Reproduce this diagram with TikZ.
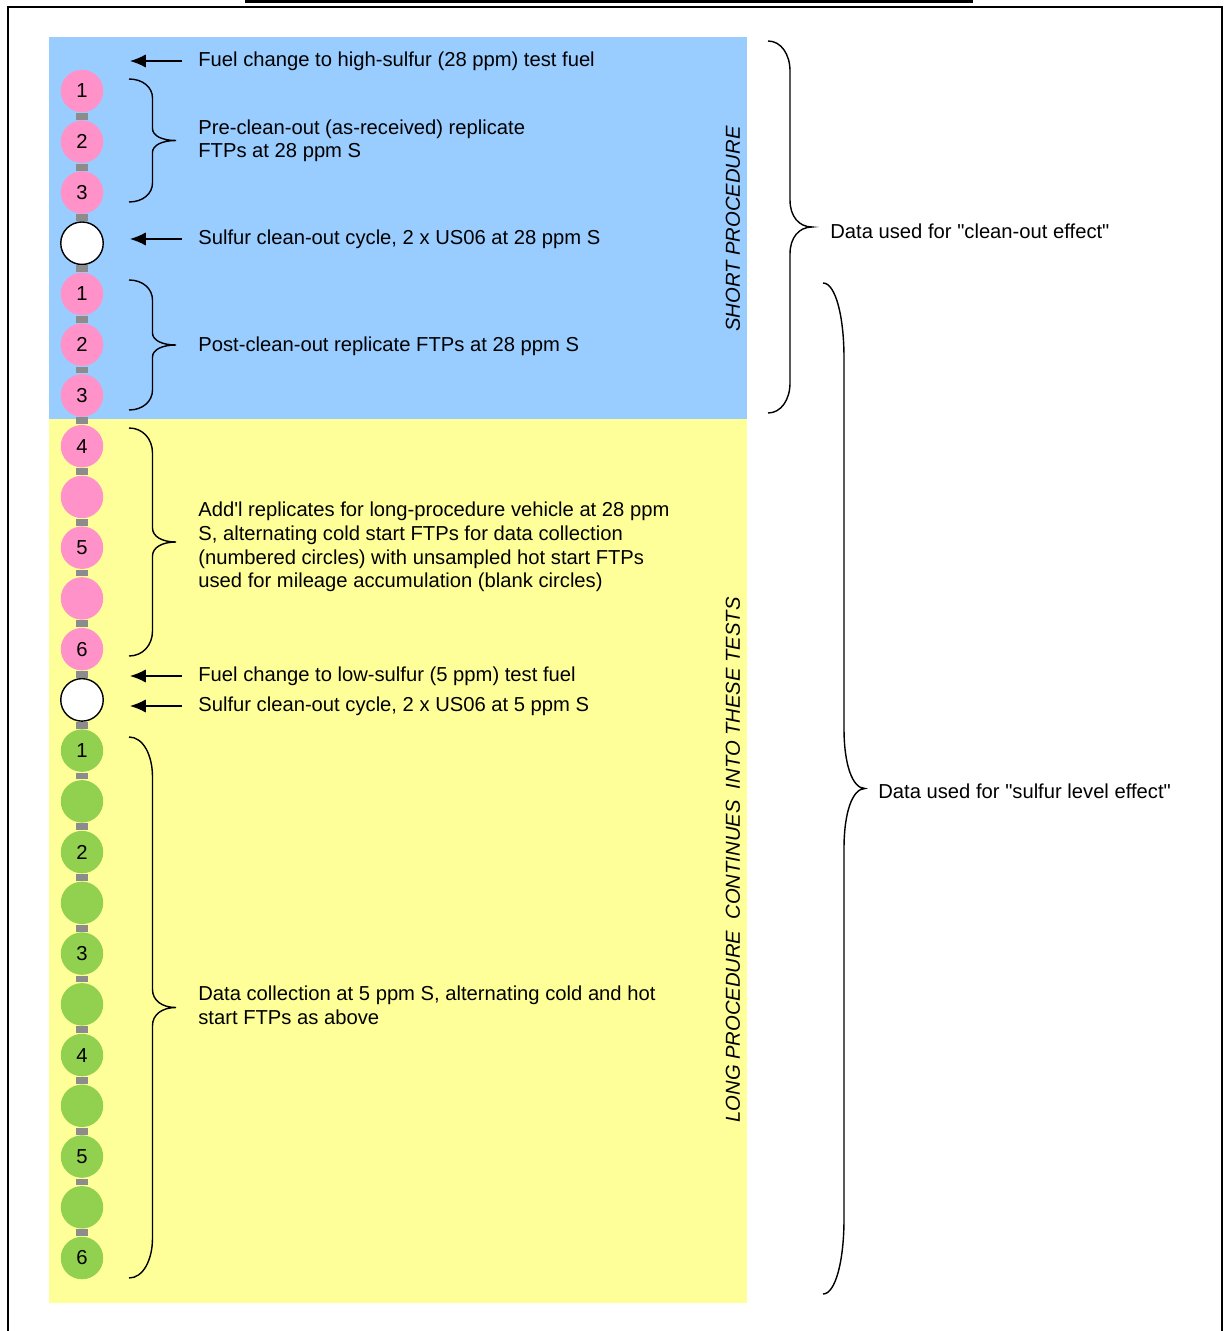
\documentclass[tikz,border=0pt]{standalone}
\usepackage{fontspec}
\setmainfont{Liberation Sans}
\usepackage{xcolor}
\usetikzlibrary{arrows.meta}
\definecolor{panelblue}{HTML}{99CCFF}
\definecolor{panelyellow}{HTML}{FFFF99}
\definecolor{dotpink}{HTML}{FF92C8}
\definecolor{dotgreen}{HTML}{92D050}
\definecolor{linkgray}{HTML}{8C8C8C}
\tikzset{
	dot_style/.style = {shape=circle, minimum size=0.85cm, inner sep=0pt, line width=0.8pt, font=\fontsize{11.5}{13.4}\selectfont},
	text_style/.style = {anchor=west, inner sep=0pt, align=left, font=\fontsize{11.5}{13.4}\selectfont},
	side_style/.style = {inner sep=0pt, rotate=90, font=\fontsize{11.5}{13.4}\selectfont\itshape},
	brace_style/.style = {draw=black, line width=0.8pt},
	link_style/.style = {draw=linkgray, line width=0.24cm}
}
\newcommand{\curlybrace}[6]{%
  \draw[brace_style] (#1,#2)
    .. controls ({#1+0.3*#4},#2) and ({#1+0.5*#4},{#2+0.45*#5}) .. ({#1+0.5*#4},{#2+#5})
    -- ({#1+0.5*#4},{(#2+#3)/2-#6})
    .. controls ({#1+0.5*#4},{(#2+#3)/2-0.4*#6}) and ({#1+0.7*#4},{(#2+#3)/2}) .. ({#1+#4},{(#2+#3)/2})
    .. controls ({#1+0.7*#4},{(#2+#3)/2}) and ({#1+0.5*#4},{(#2+#3)/2+0.4*#6}) .. ({#1+0.5*#4},{(#2+#3)/2+#6})
    -- ({#1+0.5*#4},{#3-#5})
    .. controls ({#1+0.5*#4},{#3-0.45*#5}) and ({#1+0.3*#4},#3) .. (#1,#3);
}
\begin{document}
\begin{tikzpicture}[
    x=0.02cm,
    y=-0.02cm,
    pointer/.style={
        -{Latex[length=9pt,width=7.5pt]},
        line width=0.7pt
        }]
	\useasboundingbox (0,0) rectangle (1225,1331);
	\fill (245,0) rectangle (973,3.5);
	\draw[line width=1pt] (8,1331) -- (8,7) -- (1222,7) -- (1222,1331);

	\fill[panelblue] (49,37) rectangle (747,419);
	\fill[panelyellow] (49,419) rectangle (747,1303);

	\foreach \fillc/\drawc/\num [count=\i] in {
	    dotpink/none/1, dotpink/none/2, dotpink/none/3, white/black/{},
	    dotpink/none/1, dotpink/none/2, dotpink/none/3, dotpink/none/4,
	    dotpink/none/{}, dotpink/none/5, dotpink/none/{}, dotpink/none/6,
	    white/black/{}, dotgreen/none/1, dotgreen/none/{}, dotgreen/none/2,
	    dotgreen/none/{}, dotgreen/none/3, dotgreen/none/{}, dotgreen/none/4,
	    dotgreen/none/{}, dotgreen/none/5, dotgreen/none/{}, dotgreen/none/6}
	    \node[dot_style, fill=\fillc, draw=\drawc] (c\i) at (82, {91+50.74*(\i-1)}) {\num};
	\foreach \i in {1,...,23}{
	    \pgfmathtruncatemacro{\j}{\i+1}
	    \draw[link_style] (c\i) -- (c\j);
	}

	\node[text_style] (t1) at (198,61) {Fuel change to high-sulfur (28 ppm) test fuel};
	\node[text_style] (t2) at (198,141) {Pre-clean-out (as-received) replicate\\FTPs at 28 ppm S};
	\node[text_style] (t3) at (198,239) {Sulfur clean-out cycle, 2 x US06 at 28 ppm S};
	\node[text_style] (t4) at (198,346) {Post-clean-out replicate FTPs at 28 ppm S};
	\node[text_style] (t5) at (198,547) {Add\textquotesingle l replicates for long-procedure vehicle at 28 ppm\\S, alternating cold start FTPs for data collection\\(numbered circles) with unsampled hot start FTPs\\used for mileage accumulation (blank circles)};
	\node[text_style] (t6) at (198,676) {Fuel change to low-sulfur (5 ppm) test fuel};
	\node[text_style] (t7) at (198,706) {Sulfur clean-out cycle, 2 x US06 at 5 ppm S};
	\node[text_style] (t8) at (198,1005) {Data collection at 5 ppm S, alternating cold and hot\\start FTPs as above};
	\node[text_style] (r1) at (830,231) {Data used for \textquotedbl clean-out effect\textquotedbl};
	\node[text_style] (r2) at (878,791) {Data used for \textquotedbl sulfur level effect\textquotedbl};
	\node[side_style] (short) at (733,229) {SHORT PROCEDURE};
	\node[side_style] (long) at (733,860) {LONG PROCEDURE\ \ CONTINUES\ \ INTO THESE TESTS};

	\draw[pointer] ([xshift=-0.32cm]t1.west) -- ++(-52,0);
	\draw[pointer] ([xshift=-0.32cm]t3.west) -- ++(-52,0);
	\draw[pointer] ([xshift=-0.32cm]t6.west) -- ++(-52,0);
	\draw[pointer] ([xshift=-0.32cm]t7.west) -- ++(-52,0);

	\curlybrace{129}{79}{202}{47}{19}{12}
	\curlybrace{129}{280}{410}{47}{20}{12}
	\curlybrace{129}{428}{656}{47}{25}{14}
	\curlybrace{129}{737}{1278}{47}{40}{18}
	\curlybrace{768}{41}{413}{44}{30}{27}
	\curlybrace{823}{283}{1294}{42}{75}{60}
\end{tikzpicture}
\end{document}
